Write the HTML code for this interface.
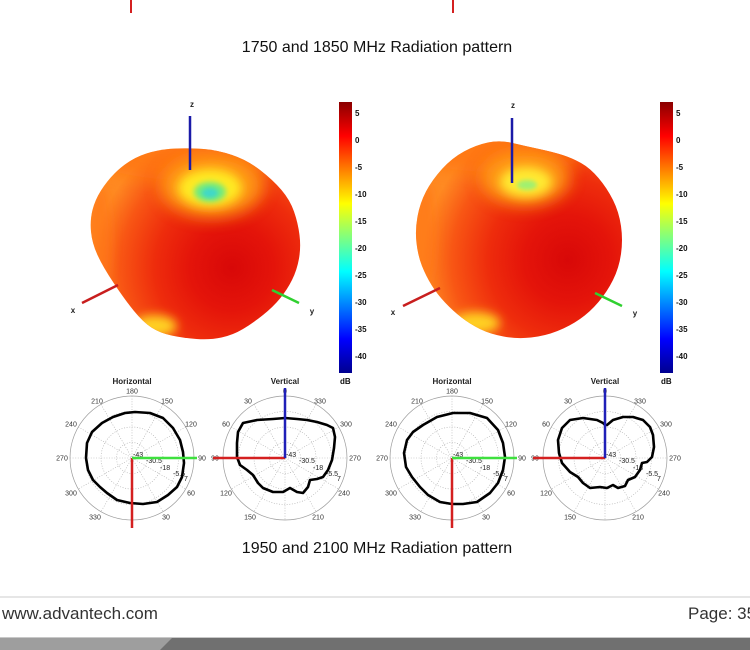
<!DOCTYPE html>
<html>
<head>
<meta charset="utf-8">
<style>
html,body{margin:0;padding:0;background:#fff;}
body{width:750px;height:650px;overflow:hidden;position:relative;}
svg{position:absolute;left:0;top:0;}
.t{font-family:"Liberation Sans",Arial,sans-serif;}
</style>
</head>
<body>
<svg width="750" height="650" viewBox="0 0 750 650" xmlns="http://www.w3.org/2000/svg">
<defs>
  <linearGradient id="jet" x1="0" y1="1" x2="0" y2="0">
    <stop offset="0" stop-color="#00008f"/>
    <stop offset="0.125" stop-color="#0000ff"/>
    <stop offset="0.375" stop-color="#00ffff"/>
    <stop offset="0.625" stop-color="#ffff00"/>
    <stop offset="0.875" stop-color="#ff0000"/>
    <stop offset="1" stop-color="#8a0000"/>
  </linearGradient>
  <radialGradient id="gL" gradientUnits="userSpaceOnUse" cx="232" cy="268" r="140">
    <stop offset="0" stop-color="#d80808"/>
    <stop offset="0.3" stop-color="#e4140a"/>
    <stop offset="0.55" stop-color="#ee2c0c"/>
    <stop offset="0.8" stop-color="#f85614"/>
    <stop offset="1" stop-color="#ff8a22"/>
  </radialGradient>
  <radialGradient id="gR" gradientUnits="userSpaceOnUse" cx="568" cy="260" r="145">
    <stop offset="0" stop-color="#d80808"/>
    <stop offset="0.3" stop-color="#e4140a"/>
    <stop offset="0.55" stop-color="#ee2c0c"/>
    <stop offset="0.8" stop-color="#f85614"/>
    <stop offset="1" stop-color="#ff8a22"/>
  </radialGradient>
  <filter id="b8" x="-50%" y="-50%" width="200%" height="200%"><feGaussianBlur stdDeviation="8"/></filter>
  <filter id="b5" x="-50%" y="-50%" width="200%" height="200%"><feGaussianBlur stdDeviation="5"/></filter>
  <filter id="b3" x="-50%" y="-50%" width="200%" height="200%"><feGaussianBlur stdDeviation="3"/></filter>
  <filter id="b2" x="-50%" y="-50%" width="200%" height="200%"><feGaussianBlur stdDeviation="2"/></filter>
  <clipPath id="cL"><path d="M 176.5,148.5 Q 190,148 203.5,149 Q 217,150 232,155 Q 247,160 260,170 Q 273,180 281.5,190 Q 290,200 294,211.5 Q 298,223 299.5,235 Q 301,247 299,258.5 Q 297,270 292,280 Q 287,290 280,298.5 Q 273,307 263,315 Q 253,323 243,329 Q 233,335 221.5,337.5 Q 210,340 196.5,339 Q 183,338 171.5,335.5 Q 160,333 151.5,327.5 Q 143,322 134,311 Q 125,300 114,283.5 Q 103,267 97.5,255 Q 92,243 91,231.5 Q 90,220 92.5,210 Q 95,200 101,190.5 Q 107,181 114.5,173.5 Q 122,166 131,160.5 Q 140,155 151.5,152 Q 163,149 176.5,148.5 Z"/></clipPath>
  <clipPath id="cR"><path d="M 488,142.5 Q 500,140 512.5,143 Q 525,146 539,149 Q 553,152 562.5,155 Q 572,158 581,163 Q 590,168 598.5,178 Q 607,188 613,200 Q 619,212 621,226 Q 623,240 621,254 Q 619,268 613,280 Q 607,292 598.5,302 Q 590,312 580,319 Q 570,326 557.5,331 Q 545,336 531,337.5 Q 517,339 503.5,336.5 Q 490,334 480,329 Q 470,324 461.5,317.5 Q 453,311 445,302.5 Q 437,294 431.5,285 Q 426,276 422,266 Q 418,256 416.5,243 Q 415,230 417.5,216.5 Q 420,203 426,191.5 Q 432,180 442,169 Q 452,158 464,151.5 Q 476,145 488,142.5 Z"/></clipPath>
  <g id="grid">
    <circle r="62" fill="none" stroke="#9a9a9a" stroke-width="0.7"/>
    <g fill="none" stroke="#aaaaaa" stroke-width="0.6" stroke-dasharray="1,1.6">
      <circle r="15.5"/><circle r="31"/><circle r="46.5"/>
      <line x1="-62" y1="0" x2="62" y2="0"/>
      <line x1="-53.7" y1="-31" x2="53.7" y2="31"/>
      <line x1="-31" y1="-53.7" x2="31" y2="53.7"/>
      <line x1="0" y1="-62" x2="0" y2="62"/>
      <line x1="31" y1="-53.7" x2="-31" y2="53.7"/>
      <line x1="53.7" y1="-31" x2="-53.7" y2="31"/>
    </g>
  </g>
</defs>

<!-- top remnants -->
<line x1="131" y1="0" x2="131" y2="13" stroke="#d42020" stroke-width="2"/>
<line x1="453" y1="0" x2="453" y2="13" stroke="#d42020" stroke-width="2"/>

<text class="t" x="377" y="52" font-size="16" text-anchor="middle" fill="#111">1750 and 1850 MHz Radiation pattern</text>

<!-- LEFT 3D -->
<g clip-path="url(#cL)">
  <rect x="80" y="140" width="230" height="210" fill="url(#gL)"/>
  <ellipse cx="190" cy="160" rx="90" ry="20" fill="#ff7010" opacity="0.65" filter="url(#b8)"/>
  <ellipse cx="212" cy="186" rx="52" ry="32" fill="#ffa012" opacity="0.9" filter="url(#b8)"/>
  <ellipse cx="210" cy="188" rx="32" ry="19" fill="#ffea20" filter="url(#b5)"/>
  <ellipse cx="210" cy="192" rx="16" ry="10" fill="#70ea80" filter="url(#b3)"/>
  <ellipse cx="210" cy="193" rx="8" ry="5" fill="#40d8c8" filter="url(#b2)"/>
  <ellipse cx="155" cy="326" rx="22" ry="11" fill="#ffd020" filter="url(#b5)"/>
  <ellipse cx="100" cy="240" rx="12" ry="55" fill="#ff7418" opacity="0.6" filter="url(#b5)"/>
</g>
<line x1="190" y1="116" x2="190" y2="170" stroke="#1a1aa8" stroke-width="2.5"/>
<line x1="82" y1="303" x2="118" y2="285" stroke="#c81e1e" stroke-width="2.5"/>
<line x1="272" y1="290" x2="299" y2="303" stroke="#30d030" stroke-width="2.5"/>
<text class="t" x="192" y="107" font-size="8" font-weight="bold" text-anchor="middle" fill="#222">z</text>
<text class="t" x="73" y="313" font-size="8" font-weight="bold" text-anchor="middle" fill="#222">x</text>
<text class="t" x="312" y="314" font-size="8" font-weight="bold" text-anchor="middle" fill="#222">y</text>

<!-- LEFT colorbar -->
<rect x="339" y="102" width="13" height="271" fill="url(#jet)"/>
<g class="t" font-size="8" font-weight="bold" fill="#111">
  <text x="355" y="116">5</text>
  <text x="355" y="143">0</text>
  <text x="355" y="170">-5</text>
  <text x="355" y="197">-10</text>
  <text x="355" y="224">-15</text>
  <text x="355" y="251">-20</text>
  <text x="355" y="278">-25</text>
  <text x="355" y="305">-30</text>
  <text x="355" y="332">-35</text>
  <text x="355" y="359">-40</text>
  <text x="340" y="384">dB</text>
</g>

<!-- RIGHT 3D -->
<g clip-path="url(#cR)">
  <rect x="405" y="130" width="230" height="220" fill="url(#gR)"/>
  <ellipse cx="500" cy="152" rx="90" ry="20" fill="#ff7010" opacity="0.65" filter="url(#b8)"/>
  <ellipse cx="525" cy="178" rx="45" ry="28" fill="#ffa012" opacity="0.9" filter="url(#b8)"/>
  <ellipse cx="526" cy="182" rx="26" ry="15" fill="#ffea30" filter="url(#b5)"/>
  <ellipse cx="527" cy="185" rx="10" ry="5" fill="#a0f070" filter="url(#b2)"/>
  <ellipse cx="476" cy="323" rx="24" ry="11" fill="#ffd020" filter="url(#b5)"/>
  <ellipse cx="424" cy="235" rx="12" ry="55" fill="#ff7418" opacity="0.6" filter="url(#b5)"/>
</g>
<line x1="512" y1="118" x2="512" y2="183" stroke="#1a1aa8" stroke-width="2.5"/>
<line x1="403" y1="306" x2="440" y2="288" stroke="#c81e1e" stroke-width="2.5"/>
<line x1="595" y1="293" x2="622" y2="306" stroke="#30d030" stroke-width="2.5"/>
<text class="t" x="513" y="108" font-size="8" font-weight="bold" text-anchor="middle" fill="#222">z</text>
<text class="t" x="393" y="315" font-size="8" font-weight="bold" text-anchor="middle" fill="#222">x</text>
<text class="t" x="635" y="316" font-size="8" font-weight="bold" text-anchor="middle" fill="#222">y</text>

<!-- RIGHT colorbar -->
<rect x="660" y="102" width="13" height="271" fill="url(#jet)"/>
<g class="t" font-size="8" font-weight="bold" fill="#111">
  <text x="676" y="116">5</text>
  <text x="676" y="143">0</text>
  <text x="676" y="170">-5</text>
  <text x="676" y="197">-10</text>
  <text x="676" y="224">-15</text>
  <text x="676" y="251">-20</text>
  <text x="676" y="278">-25</text>
  <text x="676" y="305">-30</text>
  <text x="676" y="332">-35</text>
  <text x="676" y="359">-40</text>
  <text x="661" y="384">dB</text>
</g>

<!-- POLAR: Left Horizontal (132,458) -->
<g transform="translate(132,458)">
  <use href="#grid"/>
  <text class="t" x="0" y="-74" font-size="8" font-weight="bold" text-anchor="middle" fill="#222">Horizontal</text>
  <g class="t" font-size="7" fill="#333" text-anchor="middle">
    <text x="0" y="-64.5">180</text><text x="35" y="-54.5">150</text><text x="-35" y="-54.5">210</text>
    <text x="59" y="-31.5">120</text><text x="-61" y="-31.5">240</text>
    <text x="70" y="2.5">90</text><text x="-70" y="2.5">270</text>
    <text x="59" y="37.5">60</text><text x="-61" y="37.5">300</text>
    <text x="34" y="61.5">30</text><text x="-37" y="61.5">330</text>
  </g>
  <g class="t" font-size="7" fill="#222">
    <text x="1" y="-1">-43</text><text x="14" y="5">-30.5</text><text x="28" y="12">-18</text><text x="41" y="18">-5.5</text><text x="52" y="23">7</text>
  </g>
</g>
<polygon points="135,412 150,413 163,418 173,428 180,440 183,452 184,463 182,477 177,487 168,495 157,502 143,504 130,503 117,500 107,493 100,487 93,480 88,470 86,458 87,443 92,432 102,423 113,417 125,413" fill="none" stroke="#000" stroke-width="2.6" stroke-linejoin="round"/>
<line x1="132" y1="458" x2="132" y2="528" stroke="#d42020" stroke-width="2.5"/>
<line x1="132" y1="458" x2="197" y2="458" stroke="#3ee03e" stroke-width="2.5"/>

<!-- Left Vertical (285,458) -->
<g transform="translate(285,458)">
  <use href="#grid"/>
  <text class="t" x="0" y="-74" font-size="8" font-weight="bold" text-anchor="middle" fill="#222">Vertical</text>
  <g class="t" font-size="7" fill="#333" text-anchor="middle">
    <text x="0" y="-64.5">0</text><text x="-37" y="-54.5">30</text><text x="35" y="-54.5">330</text>
    <text x="-59" y="-31.5">60</text><text x="61" y="-31.5">300</text>
    <text x="-70" y="2.5">90</text><text x="70" y="2.5">270</text>
    <text x="-59" y="37.5">120</text><text x="59" y="37.5">240</text>
    <text x="-35" y="61.5">150</text><text x="33" y="61.5">210</text>
  </g>
  <g class="t" font-size="7" fill="#222">
    <text x="1" y="-1">-43</text><text x="14" y="5">-30.5</text><text x="28" y="12">-18</text><text x="41" y="18">-5.5</text><text x="52" y="23">7</text>
  </g>
</g>
<polygon points="285,418 297,419 307,420 317,422 327,425 333,428 335,437 334,448 332,460 328,470 323,477 317,479 310,480 308,487 303,493 297,492 290,488 283,492 273,492 263,488 258,483 253,475 247,470 240,465 237,457 237,443 238,432 243,423 257,420 273,419" fill="none" stroke="#000" stroke-width="2.6" stroke-linejoin="round"/>
<line x1="285" y1="458" x2="213" y2="458" stroke="#d42020" stroke-width="2.5"/>
<line x1="285" y1="458" x2="285" y2="388" stroke="#2020b8" stroke-width="2.5"/>

<!-- Right Horizontal (452,458) -->
<g transform="translate(452,458)">
  <use href="#grid"/>
  <text class="t" x="0" y="-74" font-size="8" font-weight="bold" text-anchor="middle" fill="#222">Horizontal</text>
  <g class="t" font-size="7" fill="#333" text-anchor="middle">
    <text x="0" y="-64.5">180</text><text x="35" y="-54.5">150</text><text x="-35" y="-54.5">210</text>
    <text x="59" y="-31.5">120</text><text x="-61" y="-31.5">240</text>
    <text x="70" y="2.5">90</text><text x="-70" y="2.5">270</text>
    <text x="59" y="37.5">60</text><text x="-61" y="37.5">300</text>
    <text x="34" y="61.5">30</text><text x="-37" y="61.5">330</text>
  </g>
  <g class="t" font-size="7" fill="#222">
    <text x="1" y="-1">-43</text><text x="14" y="5">-30.5</text><text x="28" y="12">-18</text><text x="41" y="18">-5.5</text><text x="52" y="23">7</text>
  </g>
</g>
<polygon points="453,413 470,413 487,418 498,430 503,443 505,457 503,470 498,483 490,493 477,502 463,504 452,504 440,502 428,495 420,487 412,477 406,467 404,453 407,440 413,432 423,425 437,417" fill="none" stroke="#000" stroke-width="2.6" stroke-linejoin="round"/>
<line x1="452" y1="458" x2="452" y2="528" stroke="#d42020" stroke-width="2.5"/>
<line x1="452" y1="458" x2="517" y2="458" stroke="#3ee03e" stroke-width="2.5"/>

<!-- Right Vertical (605,458) -->
<g transform="translate(605,458)">
  <use href="#grid"/>
  <text class="t" x="0" y="-74" font-size="8" font-weight="bold" text-anchor="middle" fill="#222">Vertical</text>
  <g class="t" font-size="7" fill="#333" text-anchor="middle">
    <text x="0" y="-64.5">0</text><text x="-37" y="-54.5">30</text><text x="35" y="-54.5">330</text>
    <text x="-59" y="-31.5">60</text><text x="61" y="-31.5">300</text>
    <text x="-70" y="2.5">90</text><text x="70" y="2.5">270</text>
    <text x="-59" y="37.5">120</text><text x="59" y="37.5">240</text>
    <text x="-35" y="61.5">150</text><text x="33" y="61.5">210</text>
  </g>
  <g class="t" font-size="7" fill="#222">
    <text x="1" y="-1">-43</text><text x="14" y="5">-30.5</text><text x="28" y="12">-18</text><text x="41" y="18">-5.5</text><text x="52" y="23">7</text>
  </g>
</g>
<polygon points="605,425 603,423 597,420 583,418 570,420 562,428 558,440 559,453 562,463 570,472 578,477 583,483 590,488 600,487 607,488 613,485 618,488 625,486 628,480 635,477 640,470 642,463 647,462 652,457 654,447 653,435 650,427 643,420 633,417 623,417 613,420 607,425" fill="none" stroke="#000" stroke-width="2.6" stroke-linejoin="round"/>
<line x1="605" y1="458" x2="533" y2="458" stroke="#d42020" stroke-width="2.5"/>
<line x1="605" y1="458" x2="605" y2="388" stroke="#2020b8" stroke-width="2.5"/>

<text class="t" x="377" y="553" font-size="16" text-anchor="middle" fill="#111">1950 and 2100 MHz Radiation pattern</text>

<!-- footer -->
<rect x="0" y="596" width="750" height="2" fill="#e6e6e6"/>
<text class="t" x="2" y="619" font-size="17" fill="#333">www.advantech.com</text>
<text class="t" x="688" y="619" font-size="17" fill="#333">Page: 35</text>
<rect x="0" y="637" width="750" height="13" fill="#707070"/>
<polygon points="0,637 173,637 160,650 0,650" fill="#9e9e9e"/>
<rect x="0" y="637" width="750" height="1" fill="#c8c8c8"/>
</svg>
</body>
</html>
